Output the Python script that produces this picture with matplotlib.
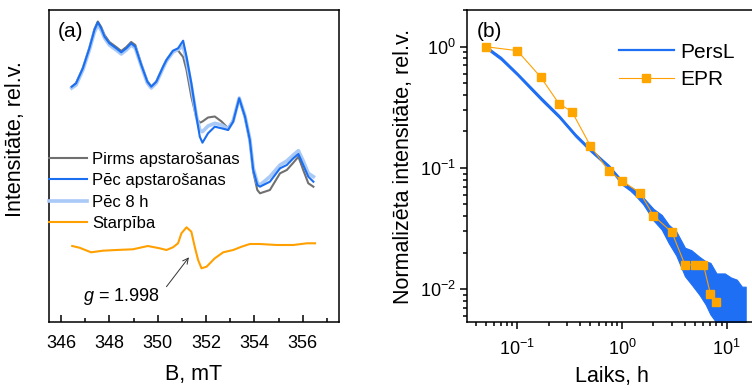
import matplotlib
matplotlib.use("Agg")
import matplotlib.pyplot as plt
from matplotlib.ticker import MultipleLocator, LogLocator, NullFormatter

plt.rcParams['font.family'] = ['Liberation Sans', 'DejaVu Sans']
plt.rcParams['mathtext.fontset'] = 'custom'
plt.rcParams['mathtext.rm'] = 'Liberation Sans'
plt.rcParams['mathtext.it'] = 'Liberation Sans:italic'

# ---- panel (a): EPR spectra (arbitrary intensity units) ----
field = [346.44, 346.62, 346.90, 347.17, 347.38, 347.52, 347.66, 347.80, 348.00, 348.28,
         348.49, 348.70, 348.90, 349.07, 349.32, 349.57, 349.73, 349.94, 350.22, 350.36,
         350.63, 350.84, 351.05, 351.19, 351.39, 351.60, 351.74, 351.85, 352.08, 352.36,
         352.64, 352.91, 353.12, 353.37, 353.61, 353.81, 353.95, 354.12, 354.23, 354.64,
         355.06, 355.34, 355.61, 355.82, 356.02, 356.23, 356.44]
before = [235, 239, 254, 274, 293, 300.5, 295, 287, 280, 275,
          271, 275, 280, 277, 258, 241, 235.5, 240.5, 255, 262,
          271, 271.5, 265, 252, 225.3, 204, 199.3, 200.5, 204.5, 205.5,
          200.5, 193.7, 202, 223, 204, 180, 150, 132, 128.7, 132,
          148.7, 152, 159.3, 165.3, 152, 138.7, 135.3]
after = [235.3, 238.7, 253.7, 273.7, 292, 299.7, 293.7, 285.3, 278.7, 273.7,
         269.7, 273.7, 278.7, 275.3, 257, 240.3, 235.3, 240.3, 255.3, 262,
         271.3, 273.7, 281.3, 265.3, 238.7, 205.3, 185.3, 179.3, 188.7, 195.3,
         193.7, 192, 200.3, 223.7, 205.3, 182, 152, 137, 135.3, 140.3,
         153.7, 157, 163.7, 168, 157, 145.3, 140.3]
after8h = [234, 237, 252, 272, 290, 297, 292, 284, 277, 272,
           268, 272, 277, 274, 256, 239, 234, 239, 254, 261,
           270, 272.5, 276, 262, 236, 206, 192, 190.3, 196, 198.7,
           197, 193, 201, 224, 206, 183, 154, 139, 137, 145.3,
           157, 161, 167, 171.3, 161, 148.7, 145.3]

diff_field = [346.46, 346.76, 347.24, 347.73, 348.28, 348.97, 349.59, 350.08, 350.36, 350.63,
              350.84, 350.98, 351.19, 351.39, 351.53, 351.67, 351.81, 352.02, 352.36, 352.71,
              353.12, 353.47, 353.81, 354.23, 354.92, 355.61, 356.17, 356.51]
diff = [76, 74.3, 69.7, 71.3, 72, 72.7, 76, 73.7, 72, 74.7,
        78.7, 88.7, 94.7, 90.3, 75.3, 62, 53.7, 55.3, 63.7, 69.7,
        72, 75.3, 78, 78, 77, 77, 78.7, 78.7]

# ---- panel (b): decay ----
persl_t = [0.05, 0.07, 0.1, 0.17, 0.25, 0.36, 0.5, 0.75, 1.0, 1.2,
           1.35, 1.6, 2.0, 2.4, 2.8, 3.3, 4.0, 4.6, 5.5, 6.3,
           7.0, 8.0, 9.6, 11.0, 12.5, 14.0, 15.2]
persl_hi = [1.0, 0.81, 0.60, 0.375, 0.27, 0.188, 0.142, 0.104, 0.078, 0.070,
            0.066, 0.057, 0.046, 0.041, 0.034, 0.030, 0.022, 0.021, 0.0185, 0.017,
            0.0165, 0.0135, 0.0135, 0.0125, 0.012, 0.0105, 0.0105]
persl_lo = [0.97, 0.78, 0.58, 0.36, 0.26, 0.181, 0.137, 0.100, 0.073, 0.065,
            0.059, 0.050, 0.037, 0.031, 0.024, 0.019, 0.0128, 0.011, 0.0090, 0.0075,
            0.0062, 0.0053, 0.004, 0.004, 0.004, 0.004, 0.004]

epr_t = [0.05, 0.1, 0.167, 0.25, 0.333, 0.5, 0.75, 1.0, 1.5, 2.0, 3.0, 4.0, 5.0, 6.0, 7.0, 8.0]
epr_y = [1.0, 0.927, 0.563, 0.339, 0.291, 0.152, 0.094, 0.0785, 0.0618, 0.0404,
         0.0295, 0.0159, 0.0159, 0.0159, 0.00915, 0.0079]

fig = plt.figure(figsize=(7.52, 3.90), dpi=100)
axa = fig.add_axes([49 / 752, 1 - 322 / 390, 290 / 752, 312 / 390])
axb = fig.add_axes([467.3 / 752, 1 - 322 / 390, 289.7 / 752, 312 / 390])

axa.plot(field, before, color='#707070', lw=1.5, label='Pirms apstarošanas')
axa.plot(field, after8h, color='#A9C9F7', lw=2.6, label='Pēc 8 h', zorder=2)
axa.plot(field, after, color='#1A6EF0', lw=1.5, label='Pēc apstarošanas', zorder=3)
axa.plot(diff_field, diff, color='#FFA000', lw=1.5, label='Starpība')
axa.set_xlim(345.5, 357.5)
axa.set_ylim(0, 312)
axa.set_yticks([])
axa.xaxis.set_major_locator(MultipleLocator(2))
axa.xaxis.set_minor_locator(MultipleLocator(1))
axa.tick_params(axis='x', which='both', direction='in', labelsize=13, width=1.1, pad=9)
axa.tick_params(axis='x', which='major', length=5)
axa.tick_params(axis='x', which='minor', length=3)
for s in axa.spines.values():
    s.set_linewidth(1.1)
axa.set_xlabel('B, mT', fontsize=15.5, labelpad=9)
axa.set_ylabel('Intensitāte, rel.v.', fontsize=15.5)
axa.yaxis.set_label_coords(-0.078, 0.587)
axa.text(0.031, 0.96, '(a)', transform=axa.transAxes, fontsize=15, va='top')
h, l = axa.get_legend_handles_labels()
order = [0, 2, 1, 3]
axa.legend([h[i] for i in order], [l[i] for i in order], loc='upper left',
           bbox_to_anchor=(0.0, 0.545), frameon=False, fontsize=12, borderpad=0,
           borderaxespad=0, handlelength=2.3, handletextpad=0.3, labelspacing=0.38)
axa.annotate('', xy=(351.29, 64.7), xytext=(350.36, 35.3),
             arrowprops=dict(arrowstyle='->', color='#333333', lw=0.7,
                             shrinkA=0, shrinkB=0))
axa.text(348.49, 25.3, '$g$ = 1.998', fontsize=13, ha='center', va='center')

axb.fill_between(persl_t, persl_lo, persl_hi, color='#1F6FF5', lw=0.8,
                 edgecolor='#1F6FF5')
axb.plot(persl_t[:9], persl_hi[:9], color='#1F6FF5', lw=1.6, label='PersL')
axb.plot(epr_t, epr_y, color='#FFA000', lw=0.8, marker='s', markersize=6,
         markerfacecolor='#FFA500', markeredgecolor='#FFA500', label='EPR')
axb.set_xscale('log')
axb.set_yscale('log')
axb.set_xlim(0.0333, 19.5)
axb.set_ylim(0.00537, 2.007)
axb.xaxis.set_minor_locator(LogLocator(base=10, subs=range(2, 10)))
axb.yaxis.set_minor_locator(LogLocator(base=10, subs=range(2, 10)))
axb.xaxis.set_minor_formatter(NullFormatter())
axb.yaxis.set_minor_formatter(NullFormatter())
axb.tick_params(which='both', direction='out', labelsize=13, width=1.1)
axb.tick_params(axis='x', which='both', pad=7)
axb.tick_params(which='major', length=5)
axb.tick_params(which='minor', length=3)
for s in axb.spines.values():
    s.set_linewidth(1.1)
axb.set_xlabel('Laiks, h', fontsize=15.5, labelpad=5)
axb.set_ylabel('Normalizēta intensitāte, rel.v.', fontsize=15.5, labelpad=4)
axb.text(0.031, 0.96, '(b)', transform=axb.transAxes, fontsize=15, va='top')
axb.legend(loc='upper left', bbox_to_anchor=(0.525, 0.895), frameon=False,
           fontsize=15, borderpad=0, borderaxespad=0, handlelength=2.6,
           handletextpad=0.3, labelspacing=0.4)

fig.savefig('out.png', dpi=100)
